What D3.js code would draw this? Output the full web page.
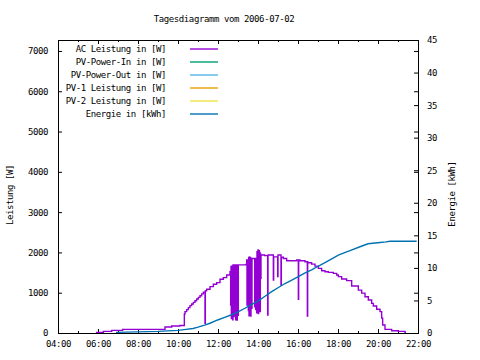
<!DOCTYPE html>
<html>
<head>
<meta charset="utf-8">
<script src="https://cdn.jsdelivr.net/npm/d3@7"></script>
<style>
  body { margin: 0; background: #fff; }
  svg { display: block; }
</style>
</head>
<body>
<div id="plot"></div>
<script>
// Tagesdiagramm vom 2006-07-02 – AC power (W) and daily energy (kWh)

const title = 'Tagesdiagramm vom 2006-07-02';

const legendLabels = ['AC Leistung in [W]', 'PV-Power-In in [W]', 'PV-Power-Out in [W]',
    'PV-1 Leistung in [W]', 'PV-2 Leistung in [W]', 'Energie in [kWh]'];
const legendColors = ['#9400d3', '#009e73', '#56b4e9', '#e69f00', '#f0e442', '#0072b2'];

const leistungTicks = [0, 1000, 2000, 3000, 4000, 5000, 6000, 7000];
const energieTicks = [0, 5, 10, 15, 20, 25, 30, 35, 40, 45];

// AC Leistung [W] (dips are short drops)
const acTimes = ['05:54', '06:16', '06:41', '07:14', '09:21', '09:41', '10:06', '10:19', '10:21', '10:26',
    '10:31', '10:36', '10:41', '10:46', '10:51', '10:56', '11:01', '11:06', '11:11', '11:16',
    '11:21', '11:22', '11:26', '11:36', '11:46', '11:56', '12:06', '12:16', '12:26', '12:36',
    '12:38', '12:39', '12:40', '12:41', '12:43', '12:44', '12:45', '12:46', '12:47', '12:49',
    '12:50', '12:51', '12:52', '12:53', '12:54', '12:57', '12:58', '13:00', '13:01', '13:24',
    '13:26', '13:27', '13:28', '13:31', '13:32', '13:33', '13:34', '13:35', '13:36', '13:38',
    '13:39', '13:41', '13:42', '13:50', '13:51', '13:53', '13:54', '13:56', '13:57', '13:59',
    '14:00', '14:01', '14:02', '14:04', '14:05', '14:06', '14:07', '14:08', '14:09', '14:20',
    '14:29', '14:30', '14:46', '14:47', '14:59', '15:00', '15:09', '15:10', '15:16', '15:26',
    '15:56', '16:01', '16:02', '16:06', '16:21', '16:28', '16:29', '16:31', '16:41', '16:51',
    '17:01', '17:11', '17:21', '17:31', '17:46', '17:56', '18:01', '18:11', '18:26', '18:41',
    '19:01', '19:11', '19:21', '19:31', '19:41', '19:46', '19:56', '20:06', '20:11', '20:14',
    '20:21', '20:41', '21:01', '21:21', '21:24'];
const acValues = [15, 40, 65, 90, 150, 175, 185, 470, 530, 580,
    630, 680, 720, 760, 800, 845, 885, 925, 970, 1010,
    240, 1050, 1085, 1150, 1210, 1250, 1335, 1375, 1440, 1520,
    695, 1650, 360, 1660, 405, 330, 1690, 400, 1690, 445,
    1690, 420, 1690, 330, 1690, 320, 1690, 440, 1690, 1700,
    1810, 695, 1810, 560, 1870, 430, 1890, 540, 1870, 420,
    1850, 610, 1850, 650, 1850, 580, 1850, 500, 2020, 530,
    2060, 480, 2040, 560, 2000, 530, 1960, 1360, 1935, 1920,
    445, 1935, 1315, 1890, 1400, 1935, 1190, 1880, 1850, 1795,
    1810, 835, 1810, 1795, 1770, 420, 1760, 1745, 1710, 1660,
    1605, 1545, 1520, 1505, 1480, 1440, 1400, 1340, 1300, 1165,
    1065, 990, 900, 820, 735, 670, 590, 530, 370, 200,
    90, 55, 40, 15, 15];

// Energie [kWh]
const energyTimes = ['06:54', '09:00', '10:00', '10:24', '10:45', '11:00', '11:20', '11:36', '11:59', '12:20',
    '12:39', '13:00', '13:21', '13:40', '14:00', '14:20', '14:41', '15:00', '15:21', '15:40',
    '16:01', '16:20', '16:41', '17:00', '17:21', '17:40', '18:01', '18:20', '18:36', '19:06',
    '19:30', '20:06', '20:24', '20:36', '21:56'];
const energyValues = [0.1, 0.25, 0.4, 0.55, 0.7, 0.9, 1.2, 1.5, 2.0, 2.4,
    2.76, 3.25, 3.8, 4.35, 4.9, 5.6, 6.35, 6.95, 7.6, 8.1,
    8.65, 9.2, 9.7, 10.25, 10.8, 11.35, 11.95, 12.35, 12.65, 13.25,
    13.7, 13.9, 14.0, 14.1, 14.1];

// the remaining series have no visible data on this day
const pvInValues = [];
const pvOutValues = [];
const pv1Values = [];
const pv2Values = [];

const width = 480;
const height = 360;
const margin = {top: 40, right: 62, bottom: 27, left: 58};
const fontFamily = '"DejaVu Sans Mono", "Liberation Mono", monospace';

const parseTime = d3.timeParse('%H:%M');

const svg = d3.select('#plot')
    .append('svg')
    .attr('width', width)
    .attr('height', height)
    .style('font-family', fontFamily)
    .style('font-size', '9px')
    .style('letter-spacing', '-0.4px');

svg.append('rect').attr('width', width).attr('height', height).attr('fill', '#fff');

const x = d3.scaleTime()
    .domain([parseTime('04:00'), parseTime('22:00')])
    .range([margin.left, width - margin.right]);

const y = d3.scaleLinear()
    .domain([0, 7272])
    .range([height - margin.bottom, margin.top]);

const y2 = d3.scaleLinear()
    .domain([0, 45])
    .range([height - margin.bottom, margin.top]);

function styleAxis(g) {
    g.select('.domain').remove();
    g.selectAll('.tick line').attr('stroke', '#000');
    g.selectAll('.tick text').attr('fill', '#000').style('font-family', fontFamily).style('font-size', '9px');
}

// left axis
svg.append('g')
    .attr('transform', `translate(${margin.left},0)`)
    .call(d3.axisLeft(y).tickValues(leistungTicks).tickSize(-4).tickPadding(10).tickFormat(d3.format('d')))
    .call(styleAxis);

// mirrored left ticks on the right
svg.append('g')
    .attr('transform', `translate(${width - margin.right},0)`)
    .call(d3.axisRight(y).tickValues(leistungTicks).tickSize(-4).tickFormat(''))
    .call(styleAxis);

// right axis (energy)
svg.append('g')
    .attr('transform', `translate(${width - margin.right},0)`)
    .call(d3.axisRight(y2).tickValues(energieTicks).tickSize(-4).tickPadding(9).tickFormat(d3.format('d')))
    .call(styleAxis);

// bottom axis
svg.append('g')
    .attr('transform', `translate(0,${height - margin.bottom})`)
    .call(d3.axisBottom(x).ticks(d3.timeHour.every(1)).tickSize(-2).tickFormat(''))
    .call(styleAxis);
svg.append('g')
    .attr('transform', `translate(0,${height - margin.bottom})`)
    .call(d3.axisBottom(x).ticks(d3.timeHour.every(2)).tickSize(-4).tickPadding(8)
        .tickFormat(d3.timeFormat('%H:%M')))
    .call(styleAxis);

// top mirror ticks
svg.append('g')
    .attr('transform', `translate(0,${margin.top})`)
    .call(d3.axisTop(x).ticks(d3.timeHour.every(1)).tickSize(-2).tickFormat(''))
    .call(styleAxis);
svg.append('g')
    .attr('transform', `translate(0,${margin.top})`)
    .call(d3.axisTop(x).ticks(d3.timeHour.every(2)).tickSize(-4).tickFormat(''))
    .call(styleAxis);

// frame
svg.append('rect')
    .attr('x', margin.left + 0.5)
    .attr('y', margin.top + 0.5)
    .attr('width', width - margin.left - margin.right)
    .attr('height', height - margin.top - margin.bottom)
    .attr('fill', 'none')
    .attr('stroke', '#000')
    .attr('stroke-width', 1);

// title and axis titles
svg.append('text')
    .attr('x', 224)
    .attr('y', 21.5)
    .attr('text-anchor', 'middle')
    .text(title);

svg.append('text')
    .attr('transform', 'translate(13,195) rotate(-90)')
    .attr('text-anchor', 'middle')
    .text('Leistung [W]');

svg.append('text')
    .attr('transform', 'translate(455,194) rotate(-90)')
    .attr('text-anchor', 'middle')
    .text('Energie [kWh]');

// series
const acData = acTimes.map((t, i) => ({time: parseTime(t), value: acValues[i]}));
const energyData = energyTimes.map((t, i) => ({time: parseTime(t), value: energyValues[i]}));

const lineW = d3.line()
    .x(d => x(d.time))
    .y(d => y(d.value))
    .curve(d3.curveStepAfter);

const lineE = d3.line()
    .x(d => x(d.time))
    .y(d => y2(d.value));

const series = [
    {data: acData, line: lineW, color: legendColors[0]},
    {data: pvInValues, line: lineW, color: legendColors[1]},
    {data: pvOutValues, line: lineW, color: legendColors[2]},
    {data: pv1Values, line: lineW, color: legendColors[3]},
    {data: pv2Values, line: lineW, color: legendColors[4]},
    {data: energyData, line: lineE, color: legendColors[5]}
];

series.forEach(s => {
    if (!s.data.length) return;
    svg.append('path')
        .datum(s.data)
        .attr('fill', 'none')
        .attr('stroke', s.color)
        .attr('stroke-width', 1.4)
        .attr('d', s.line);
});

// legend
const legend = svg.append('g');
legendLabels.forEach((label, i) => {
    const ly = 49 + i * 13;
    legend.append('text')
        .attr('x', 166)
        .attr('y', ly + 3)
        .attr('text-anchor', 'end')
        .text(label);
    legend.append('line')
        .attr('x1', 190)
        .attr('x2', 218)
        .attr('y1', ly)
        .attr('y2', ly)
        .attr('stroke', legendColors[i])
        .attr('stroke-width', 1.4);
});
</script>
</body>
</html>
